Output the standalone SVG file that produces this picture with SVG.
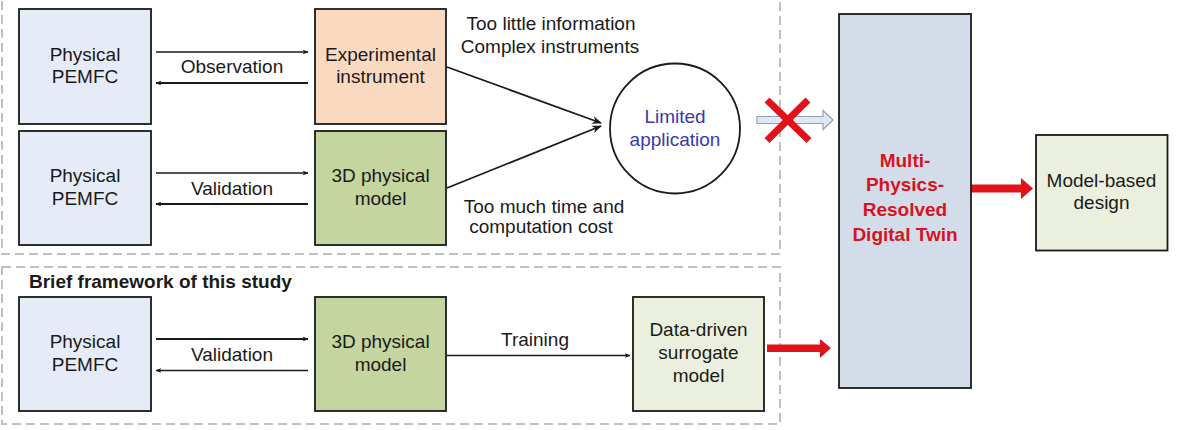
<svg xmlns="http://www.w3.org/2000/svg" width="1178" height="430" viewBox="0 0 1178 430">
<defs>
<style>
text{font-family:"Liberation Sans",Arial,sans-serif;font-size:19px;fill:#1a1a1a;text-anchor:middle}
.box{stroke:#1a1a1a;stroke-width:1.8}
.phys{fill:#e6ecf7}
.exp{fill:#fad9c1}
.model{fill:#c5d59f}
.light{fill:#ebf0de}
.dt{fill:#d3dde9}
.dash{fill:none;stroke:#a8adb3;stroke-width:1.5;stroke-dasharray:9 5}
.ln{stroke:#1a1a1a;fill:none}
.red{fill:#e2121b}
.bold{font-weight:bold}
.dtt{fill:#d9131e;font-weight:bold}
</style>
<marker id="ah" viewBox="0 0 10 10" refX="9" refY="5" markerWidth="6" markerHeight="6" markerUnits="userSpaceOnUse" orient="auto">
<path d="M0,1 L10,5 L0,9 L3,5 Z" fill="#1a1a1a"/>
</marker>
<marker id="ah2" viewBox="0 0 10 10" refX="9" refY="5" markerWidth="10" markerHeight="10" markerUnits="userSpaceOnUse" orient="auto">
<path d="M0,1 L10,5 L0,9 L3,5 Z" fill="#1a1a1a"/>
</marker>
</defs>
<rect width="1178" height="430" fill="#ffffff"/>

<g id="frames">
<rect class="dash" x="2" y="-4" width="778" height="258"/>
<rect class="dash" x="2" y="267" width="778" height="157"/>
<text class="bold" x="29" y="288" style="text-anchor:start">Brief framework of this study</text>
</g>

<g id="connectors">
<line class="ln" x1="156" y1="52" x2="308" y2="52" stroke-width="1.3" marker-end="url(#ah)"/>
<line class="ln" x1="308" y1="83" x2="156" y2="83" stroke-width="2.2" marker-end="url(#ah)"/>
<text x="232" y="73">Observation</text>
<line class="ln" x1="156" y1="173" x2="308" y2="173" stroke-width="1.3" marker-end="url(#ah)"/>
<line class="ln" x1="308" y1="204" x2="156" y2="204" stroke-width="2.2" marker-end="url(#ah)"/>
<text x="232" y="195">Validation</text>
<line class="ln" x1="156" y1="339" x2="308" y2="339" stroke-width="2" marker-end="url(#ah)"/>
<line class="ln" x1="308" y1="370.5" x2="156" y2="370.5" stroke-width="1.3" marker-end="url(#ah)"/>
<text x="232" y="361">Validation</text>
<line class="ln" x1="447" y1="355.5" x2="630" y2="355.5" stroke-width="1.5" marker-end="url(#ah)"/>
<text x="535" y="346">Training</text>
<line class="ln" x1="447" y1="67" x2="601" y2="123" stroke-width="1.8" marker-end="url(#ah2)"/>
<line class="ln" x1="447" y1="188" x2="601" y2="126" stroke-width="1.8" marker-end="url(#ah2)"/>
<text x="551" y="30">Too little information</text>
<text x="550" y="53">Complex instruments</text>
<text x="544" y="213">Too much time and</text>
<text x="541" y="233">computation cost</text>
<path d="M757,116.5 H823 V110.5 L833,120 L823,129.5 V123.5 H757 Z" fill="#dfe7f1" stroke="#8fa2bb" stroke-width="1.2"/>
<path d="M767,100 L809,140.5 M808,100 L767,140.5" stroke="#e2121b" stroke-width="7" fill="none"/>
<path class="red" d="M767,344.5 H820 V339 L831,348 L820,358 V352 H767 Z"/>
<path class="red" d="M971,184.5 H1021 V178 L1033,188.5 L1021,199 V192.5 H971 Z"/>
</g>

<g id="physical1">
<rect class="box phys" x="19" y="9" width="132" height="115"/>
<text x="85" y="61">Physical</text>
<text x="85" y="83">PEMFC</text>
</g>
<g id="physical2">
<rect class="box phys" x="19" y="131" width="132" height="114"/>
<text x="85" y="182">Physical</text>
<text x="85" y="205">PEMFC</text>
</g>
<g id="physical3">
<rect class="box phys" x="19" y="297" width="132" height="114"/>
<text x="85" y="348">Physical</text>
<text x="85" y="371">PEMFC</text>
</g>
<g id="experimental">
<rect class="box exp" x="315" y="9" width="131" height="115"/>
<text x="380.5" y="61">Experimental</text>
<text x="380.5" y="83">instrument</text>
</g>
<g id="model3d1">
<rect class="box model" x="315" y="131" width="131" height="114"/>
<text x="380.5" y="182">3D physical</text>
<text x="380.5" y="205">model</text>
</g>
<g id="model3d2">
<rect class="box model" x="315" y="297" width="131" height="114"/>
<text x="380.5" y="348">3D physical</text>
<text x="380.5" y="371">model</text>
</g>
<g id="limited">
<circle cx="675" cy="128.5" r="65" fill="#ffffff" stroke="#1a1a1a" stroke-width="1.8"/>
<text x="675" y="123" style="fill:#3a3aa8">Limited</text>
<text x="675" y="146" style="fill:#3a3aa8">application</text>
</g>
<g id="surrogate">
<rect class="box light" x="633" y="297" width="131" height="114"/>
<text x="698.5" y="336">Data-driven</text>
<text x="698.5" y="359">surrogate</text>
<text x="698.5" y="382">model</text>
</g>
<g id="digitaltwin">
<rect class="box dt" x="839" y="14" width="132" height="374"/>
<text class="dtt" x="905" y="167">Multi-</text>
<text class="dtt" x="905" y="191">Physics-</text>
<text class="dtt" x="905" y="216">Resolved</text>
<text class="dtt" x="905" y="241">Digital Twin</text>
</g>
<g id="modelbased">
<rect class="box light" x="1036" y="135" width="131.5" height="115.5"/>
<text x="1101.5" y="187">Model-based</text>
<text x="1101.5" y="209">design</text>
</g>
</svg>
